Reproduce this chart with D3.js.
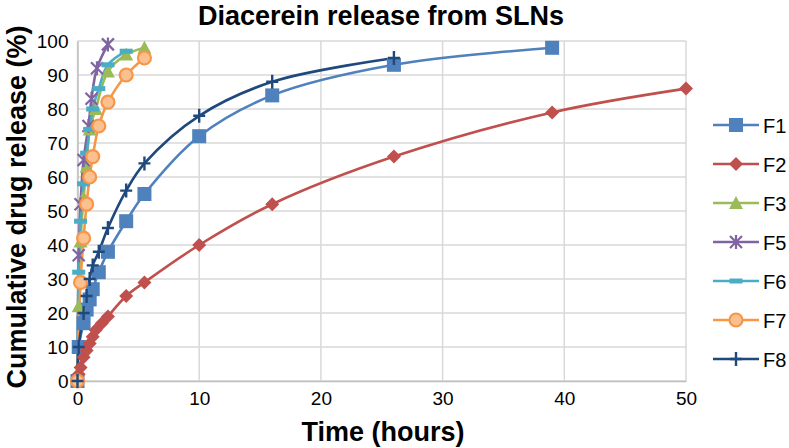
<!DOCTYPE html>
<html>
<head>
<meta charset="utf-8">
<script src="https://cdn.jsdelivr.net/npm/d3@7"></script>
<style>
  body { margin: 0; background: #fff; }
  text { font-family: "Liberation Sans", Arial, sans-serif; }
</style>
</head>
<body>
<div id="chart"></div>
<script>
// data (time in hours, cumulative release %)
var seriesNames = ["F1", "F2", "F3", "F5", "F6", "F7", "F8"];
var f1Time = [0, 0.1, 0.5, 0.75, 1, 1.25, 1.75, 2.5, 4, 5.5, 10, 16, 26, 39];
var f1Val  = [0, 10, 17, 21, 24, 27, 32, 38, 47, 55, 72, 84, 93, 98];
var f2Time = [0, 0.1, 0.25, 0.5, 0.75, 1, 1.25, 1.5, 2, 2.5, 4, 5.5, 10, 16, 26, 39, 50];
var f2Val  = [0, 2, 4, 7, 9, 11, 13, 15, 17, 19, 25, 29, 40, 52, 66, 79, 86];
var f3Time = [0, 0.1, 0.25, 0.5, 0.75, 1, 1.5, 2.5, 4, 5.5];
var f3Val  = [0, 22, 41, 54, 63, 74, 80, 91, 96, 98];
var f5Time = [0, 0.1, 0.25, 0.5, 0.9, 1.15, 1.6, 2.5];
var f5Val  = [0, 37, 52, 65, 75, 83, 92, 99];
var f6Time = [0, 0.1, 0.25, 0.5, 0.75, 1, 1.25, 1.75, 2.5, 4];
var f6Val  = [0, 32, 47, 58, 67, 74, 80, 86, 93, 97];
var f7Time = [0, 0.25, 0.5, 0.75, 1, 1.25, 1.75, 2.5, 4, 5.5];
var f7Val  = [0, 29, 42, 52, 60, 66, 75, 82, 90, 95];
var f8Time = [0, 0.1, 0.5, 0.75, 1, 1.25, 1.75, 2.5, 4, 5.5, 10, 16, 26];
var f8Val  = [0, 10, 20, 25, 30, 34, 38, 45, 56, 64, 78, 88, 95];
var xTicks = [0, 10, 20, 30, 40, 50];
var yTicks = [0, 10, 20, 30, 40, 50, 60, 70, 80, 90, 100];

var times = [f1Time, f2Time, f3Time, f5Time, f6Time, f7Time, f8Time];
var vals  = [f1Val, f2Val, f3Val, f5Val, f6Val, f7Val, f8Val];
var colors = ["#4F81BD", "#C0504D", "#9BBB59", "#8064A2", "#4BACC6", "#F79646", "#1F497D"];
var markers = ["square", "diamond", "triangle", "star", "dash", "circle", "plus"];

var series = seriesNames.map(function(n, i) {
  return {
    name: n, color: colors[i], marker: markers[i],
    points: times[i].map(function(t, j) { return {t: t, v: vals[i][j]}; })
  };
});

var W = 789, H = 448;
var margin = {top: 41, right: 103, bottom: 67, left: 77.5};
var width = W - margin.left - margin.right,
    height = H - margin.top - margin.bottom;

var svg = d3.select("#chart").append("svg")
    .attr("width", W).attr("height", H);

var g = svg.append("g")
    .attr("transform", "translate(" + margin.left + "," + margin.top + ")");

var x = d3.scaleLinear().domain([0, 50]).range([0, width]);
var y = d3.scaleLinear().domain([0, 100]).range([height, 0]);

// grid
g.append("g").selectAll("line").data(yTicks).enter().append("line")
  .attr("x1", 0).attr("x2", width)
  .attr("y1", function(d) { return y(d); }).attr("y2", function(d) { return y(d); })
  .attr("stroke", "#D9D9D9").attr("stroke-width", 1.5);
g.append("g").selectAll("line").data(xTicks).enter().append("line")
  .attr("y1", 0).attr("y2", height)
  .attr("x1", function(d) { return x(d); }).attr("x2", function(d) { return x(d); })
  .attr("stroke", "#D9D9D9").attr("stroke-width", 1.5);

// axes
var xAxis = g.append("g")
  .attr("transform", "translate(0," + height + ")")
  .call(d3.axisBottom(x).tickValues(xTicks).tickSize(0).tickPadding(11));
var yAxis = g.append("g")
  .call(d3.axisLeft(y).tickValues(yTicks).tickSize(0).tickPadding(9));
[xAxis, yAxis].forEach(function(a) {
  a.select(".domain").attr("stroke", "#BFBFBF").attr("stroke-width", 1.5);
  a.selectAll("text").attr("font-size", 19).attr("fill", "#000")
    .attr("font-family", "Liberation Sans, Arial, sans-serif");
});

// lines
var line = d3.line()
  .x(function(d) { return x(d.t); })
  .y(function(d) { return y(d.v); })
  .curve(d3.curveCatmullRom.alpha(0.5));

g.selectAll(".myLine").data(series).enter().append("path")
  .attr("class", "myLine")
  .attr("d", function(d) { return line(d.points); })
  .attr("fill", "none")
  .attr("stroke", function(d) { return d.color; })
  .attr("stroke-width", 2.6);

// marker drawer
function drawMarker(sel, type, color) {
  if (type === "square") {
    sel.append("rect").attr("x", -7).attr("y", -7).attr("width", 14).attr("height", 14)
      .attr("fill", color);
  } else if (type === "diamond") {
    sel.append("path").attr("d", "M0,-7L7,0L0,7L-7,0Z").attr("fill", color);
  } else if (type === "triangle") {
    sel.append("path").attr("d", "M0,-7L7,6L-7,6Z").attr("fill", color);
  } else if (type === "star") {
    sel.append("path").attr("d", "M-6,-6L6,6M-6,6L6,-6M0,-7L0,7")
      .attr("stroke", color).attr("stroke-width", 2.2).attr("fill", "none");
  } else if (type === "dash") {
    sel.append("rect").attr("x", -6.5).attr("y", -2.5).attr("width", 13).attr("height", 5)
      .attr("fill", color);
  } else if (type === "circle") {
    sel.append("circle").attr("r", 6.5).attr("fill", "#FAC090")
      .attr("stroke", color).attr("stroke-width", 2.2);
  } else if (type === "plus") {
    sel.append("path").attr("d", "M0,-7L0,7M-6,0L6,0")
      .attr("stroke", color).attr("stroke-width", 2.4).attr("fill", "none");
  }
}

series.forEach(function(s) {
  s.points.forEach(function(p) {
    var m = g.append("g")
      .attr("transform", "translate(" + x(p.t) + "," + y(p.v) + ")");
    drawMarker(m, s.marker, s.color);
  });
});

// legend
var legend = svg.append("g").attr("transform", "translate(713,125)");
series.forEach(function(s, i) {
  var row = legend.append("g").attr("transform", "translate(0," + (i * 39) + ")");
  row.append("line").attr("x1", 0).attr("x2", 46).attr("y1", 0).attr("y2", 0)
    .attr("stroke", s.color).attr("stroke-width", 2.6);
  drawMarker(row.append("g").attr("transform", "translate(23,0)"), s.marker, s.color);
  row.append("text").attr("x", 50).attr("y", 8).attr("font-size", 20).text(s.name);
});

// title and axis labels
svg.append("text")
  .attr("x", 381).attr("y", 25)
  .attr("text-anchor", "middle")
  .attr("font-size", 27).attr("font-weight", "bold")
  .text("Diacerein release from SLNs");

svg.append("text")
  .attr("x", 383).attr("y", 441)
  .attr("text-anchor", "middle")
  .attr("font-size", 27).attr("font-weight", "bold")
  .text("Time (hours)");

svg.append("text")
  .attr("transform", "translate(26,207)rotate(-90)")
  .attr("text-anchor", "middle")
  .attr("font-size", 27).attr("font-weight", "bold")
  .text("Cumulative drug release (%)");
</script>
</body>
</html>
